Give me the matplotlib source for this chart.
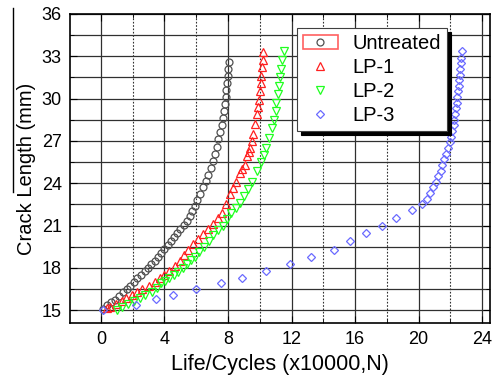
import matplotlib
matplotlib.use('Agg')
import matplotlib.pyplot as plt
from matplotlib.patches import Rectangle
from matplotlib.lines import Line2D
from matplotlib.legend_handler import HandlerTuple
from matplotlib.ticker import MultipleLocator

plt.rcParams['font.family'] = ['Liberation Sans', 'DejaVu Sans']

# crack length vs life
untreated_x = [0.1, 0.35, 0.6, 0.9, 1.15, 1.4, 1.65, 1.85, 2.1, 2.3, 2.55, 2.75, 2.95, 3.15,
               3.4, 3.6, 3.8, 4.0, 4.2, 4.4, 4.6, 4.8, 5.0, 5.2, 5.4, 5.6, 5.75, 5.9, 6.05,
               6.25, 6.45, 6.6, 6.75, 6.9, 7.05, 7.15, 7.3, 7.4, 7.5, 7.6, 7.67, 7.75, 7.8,
               7.85, 7.9, 7.95, 8.0, 8.02, 8.05]
untreated_y = [15.1, 15.35, 15.55, 15.75, 16.0, 16.3, 16.5, 16.75, 17.0, 17.25, 17.5, 17.75,
               18.0, 18.25, 18.5, 18.8, 19.05, 19.35, 19.6, 19.9, 20.2, 20.45, 20.75, 21.05,
               21.35, 21.7, 22.05, 22.4, 22.8, 23.2, 23.7, 24.15, 24.6, 25.1, 25.6, 26.1, 26.6,
               27.1, 27.6, 28.1, 28.6, 29.1, 29.6, 30.1, 30.6, 31.1, 31.6, 32.1, 32.6]

lp1_x = [0.4, 0.57, 0.95, 1.3, 1.6, 1.93, 2.25, 2.6, 3.0, 3.4, 3.7, 4.0, 4.3, 4.65, 4.95, 5.2,
         5.5, 5.8, 6.1, 6.4, 6.75, 7.05, 7.35, 7.6, 7.85, 8.1, 8.3, 8.5, 8.75, 8.9, 9.05, 9.2,
         9.3, 9.4, 9.5, 9.6, 9.7, 9.8, 9.9, 9.96, 10.01, 10.06, 10.1, 10.15, 10.18, 10.2]
lp1_y = [15.15, 15.25, 15.45, 15.65, 15.85, 16.1, 16.3, 16.5, 16.75, 17.0, 17.25, 17.5, 17.8,
         18.1, 18.5, 18.9, 19.3, 19.7, 20.05, 20.4, 20.75, 21.1, 21.5, 21.9, 22.5, 23.2,
         23.65, 24.1, 24.7, 25.0, 25.3, 25.9, 26.2, 26.5, 27.0, 27.5, 28.2, 28.9, 29.4, 29.9,
         30.5, 31.1, 31.6, 32.2, 32.75, 33.3]

lp2_x = [1.03, 1.35, 1.7, 2.05, 2.45, 2.8, 3.2, 3.5, 3.8, 4.05, 4.3, 4.6, 4.86, 5.15, 5.4,
         5.65, 5.9, 6.2, 6.5, 6.8, 7.06, 7.4, 7.7, 7.95, 8.2, 8.5, 8.75, 9.0, 9.25, 9.5, 9.8,
         10.05, 10.25, 10.4, 10.6, 10.8, 10.9, 11.0, 11.05, 11.15, 11.2, 11.26, 11.32, 11.4,
         11.5]
lp2_y = [15.0, 15.2, 15.45, 15.65, 15.9, 16.1, 16.3, 16.6, 16.9, 17.1, 17.3, 17.5, 17.7, 18.0,
         18.3, 18.55, 18.8, 19.15, 19.5, 19.9, 20.3, 20.65, 21.0, 21.45, 21.9, 22.25, 22.6,
         23.1, 23.6, 24.1, 24.9, 25.5, 26.0, 26.5, 27.2, 27.9, 28.5, 29.1, 29.7, 30.3, 30.9,
         31.5, 32.1, 32.7, 33.4]

lp3_x = [0.1, 2.2, 3.46, 4.55, 6.0, 7.55, 8.9, 10.4, 11.9, 13.25, 14.65, 15.66, 16.7, 17.7,
         18.6, 19.6, 20.2, 20.5, 20.7, 20.9, 21.1, 21.25, 21.4, 21.5, 21.6, 21.75, 21.85,
         21.95, 22.05, 22.1, 22.2, 22.25, 22.3, 22.35, 22.4, 22.45, 22.5, 22.55, 22.57, 22.6,
         22.63, 22.67, 22.7, 22.75]
lp3_y = [15.0, 15.4, 15.8, 16.1, 16.5, 16.9, 17.3, 17.8, 18.3, 18.8, 19.3, 19.9, 20.45, 21.0,
         21.5, 22.1, 22.5, 22.9, 23.3, 23.7, 24.1, 24.5, 24.9, 25.3, 25.7, 26.1, 26.5, 26.9,
         27.3, 27.7, 28.1, 28.5, 28.9, 29.3, 29.7, 30.1, 30.5, 30.9, 31.3, 31.7, 32.1, 32.5,
         32.9, 33.4]

labels = ['Untreated', 'LP-1', 'LP-2', 'LP-3']

fig = plt.figure(figsize=(4.93, 3.84), dpi=100)
ax = fig.add_axes([0.142, 0.159, 0.852, 0.805])

ms = 5
h0, = ax.plot(untreated_x, untreated_y, 'o', ms=ms, mfc='none', mec='#505050', mew=0.9)
h1, = ax.plot(lp1_x, lp1_y, '^', ms=ms + 1, mfc='none', mec='#ff2020', mew=0.9)
h2, = ax.plot(lp2_x, lp2_y, 'v', ms=ms + 1, mfc='none', mec='#20ff20', mew=0.9)
h3, = ax.plot(lp3_x, lp3_y, 'D', ms=ms - 0.5, mfc='none', mec='#6a6aff', mew=0.9)

ax.set_xlim(-1.95, 24.5)
ax.set_ylim(14.1, 36)
ax.xaxis.set_major_locator(MultipleLocator(4))
ax.xaxis.set_minor_locator(MultipleLocator(2))
ax.yaxis.set_major_locator(MultipleLocator(3))
ax.yaxis.set_minor_locator(MultipleLocator(1.5))

ax.grid(True, which='major', axis='both', color='#303030', lw=0.9, ls='-')
ax.grid(True, which='minor', axis='y', color='#303030', lw=0.9, ls='-')
ax.grid(True, which='minor', axis='x', color='#303030', lw=0.8, ls=(0, (1.5, 1.5)))
ax.set_axisbelow(True)

ax.tick_params(which='both', direction='in', top=True, right=True, labelsize=13, pad=6)
ax.tick_params(which='major', length=5)
ax.tick_params(which='minor', length=3)
for s in ax.spines.values():
    s.set_linewidth(1.2)

ax.set_xlabel('Life/Cycles (x10000,N)', fontsize=15.5, labelpad=4)
ax.set_ylabel('Crack Length (mm)', fontsize=14.5, labelpad=4)

box = Rectangle((0, 0), 1, 1, fill=False, ec='#ff6060', lw=1.2)
leg = ax.legend([(box, h0), h1, h2, h3], labels,
                handler_map={tuple: HandlerTuple(ndivide=1, pad=0)},
                loc='upper left', bbox_to_anchor=(0.54, 0.955), borderaxespad=0,
                fontsize=14.5, fancybox=False, framealpha=1, edgecolor='#404040',
                handlelength=1.75, handletextpad=0.7, labelspacing=0.25,
                borderpad=0.3,
                shadow={'color': 'black', 'alpha': 1, 'ox': 3, 'oy': -3})
leg.get_frame().set_linewidth(0.8)

# stray vertical line at the left edge of the scan
fig.add_artist(Line2D([0.026, 0.026], [0.98, 0.5], color='black', lw=1))

fig.savefig('out.png', dpi=100)
